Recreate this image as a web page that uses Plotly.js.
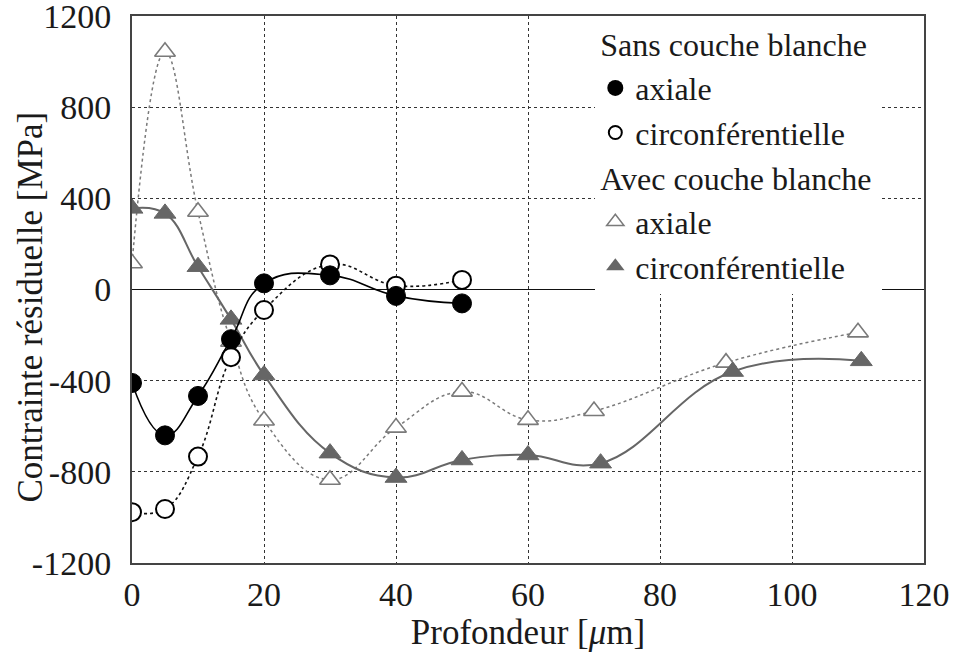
<!DOCTYPE html>
<html>
<head>
<meta charset="utf-8">
<script src="https://cdn.plot.ly/plotly-3.0.1.min.js"></script>
<style>
html,body{margin:0;padding:0;background:#fff;}
#chart{width:957px;height:653px;}
</style>
</head>
<body>
<div id="chart"></div>
<script>
// Sans couche blanche
const xSans = [0, 5, 10, 15, 20, 30, 40, 50];
const sansAxiale = [-410, -640, -467, -218, 27, 62, -28, -61];
const sansCirc = [-977, -963, -733, -297, -90, 110, 17, 42];
// Avec couche blanche
const xAvecAxiale = [0, 5, 10, 15, 20, 30, 40, 50, 60, 70, 90, 110];
const avecAxiale = [115, 1043, 341, -229, -575, -835, -606, -448, -572, -533, -321, -188];
const xAvecCirc = [0, 5, 10, 15, 20, 30, 40, 50, 60, 71, 91, 110.5];
const avecCirc = [356, 334, 100, -131, -375, -718, -825, -748, -726, -762, -360, -313];

const xTicks = [0, 20, 40, 60, 80, 100, 120];
const xTickText = ['0', '20', '40', '60', '80', '100', '120'];
const yTicks = [-1200, -800, -400, 0, 400, 800, 1200];
const yTickText = ['-1200', '-800', '-400', '0', '400', '800', '1200'];

const groupSans = 'Sans couche blanche';
const groupAvec = 'Avec couche blanche';
const labelAxiale = 'axiale';
const labelCirc = 'circonférentielle';
const xTitle = 'Profondeur [<i>μ</i>m]';
const yTitle = 'Contrainte résiduelle [MPa]';

const serifFamily = 'Liberation Serif';
const txtColor = '#1a1a1a';
const markGray = '#666666';
const markLightGray = '#7a7a7a';

const traces = [
  {x: xAvecAxiale, y: avecAxiale, mode: 'lines+markers', showlegend: false,
   line: {shape: 'spline', smoothing: 1.2, color: markLightGray, width: 1.5, dash: 'dot'},
   marker: {symbol: 'triangle-up', size: 18, color: '#fff', line: {color: markLightGray, width: 1.6}}},
  {x: xAvecCirc, y: avecCirc, mode: 'lines+markers', showlegend: false,
   line: {shape: 'spline', smoothing: 1.2, color: markGray, width: 2},
   marker: {symbol: 'triangle-up', size: 19, color: markGray, line: {color: markGray, width: 1}}},
  {x: xSans, y: sansCirc, mode: 'lines+markers', showlegend: false,
   line: {shape: 'spline', smoothing: 1.2, color: '#111', width: 1.6, dash: 'dot'},
   marker: {symbol: 'circle', size: 18, color: '#fff', line: {color: '#000', width: 2}}},
  {x: xSans, y: sansAxiale, mode: 'lines+markers', showlegend: false,
   line: {shape: 'spline', smoothing: 1.3, color: '#000', width: 1.6},
   marker: {symbol: 'circle', size: 19, color: '#000', line: {color: '#000', width: 1}}},
  // legend-only entries (markers only, as in reference)
  {x: [null], y: [null], mode: 'markers', name: labelAxiale, legendgroup: 'sans', legendrank: 1,
   legendgrouptitle: {text: groupSans}, marker: {symbol: 'circle', size: 16, color: '#000'}},
  {x: [null], y: [null], mode: 'markers', name: labelCirc, legendgroup: 'sans', legendrank: 2,
   marker: {symbol: 'circle-open', size: 13, color: '#000', line: {width: 2}}},
  {x: [null], y: [null], mode: 'markers', name: labelAxiale, legendgroup: 'avec', legendrank: 3,
   legendgrouptitle: {text: groupAvec}, marker: {symbol: 'triangle-up-open', size: 15, color: markLightGray, line: {width: 1.5}}},
  {x: [null], y: [null], mode: 'markers', name: labelCirc, legendgroup: 'avec', legendrank: 4,
   marker: {symbol: 'triangle-up', size: 16, color: markGray}}
];

const layout = {
  width: 957, height: 653,
  margin: {l: 132, r: 33, t: 16, b: 90},
  paper_bgcolor: '#fff', plot_bgcolor: '#fff',
  font: {family: serifFamily, size: 34, color: txtColor},
  showlegend: true,
  legend: {x: 0.585, xanchor: 'left', y: 1, yanchor: 'top', bgcolor: '#fff', borderwidth: 0,
           font: {family: serifFamily, size: 32, color: txtColor}, tracegroupgap: 0,
           grouptitlefont: {family: serifFamily, size: 32, color: txtColor}, traceorder: 'grouped'},
  xaxis: {range: [0, 120], tickvals: xTicks, ticktext: xTickText, showgrid: true,
          gridcolor: '#333', griddash: 'dot', gridwidth: 1, zeroline: false,
          showline: true, mirror: true, linecolor: '#444', linewidth: 2,
          ticks: '', ticklabelstandoff: 0, ticklabeloverflow: 'allow',
          tickfont: {family: serifFamily, size: 34, color: txtColor},
          title: {text: xTitle, font: {family: serifFamily, size: 35, color: txtColor}, standoff: 0}},
  yaxis: {range: [-1200, 1200], tickvals: yTicks, ticktext: yTickText, showgrid: true,
          gridcolor: '#333', griddash: 'dot', gridwidth: 1,
          zeroline: true, zerolinecolor: '#111', zerolinewidth: 1.6,
          showline: true, mirror: true, linecolor: '#444', linewidth: 2,
          ticks: '', ticklabelstandoff: 12, ticklabeloverflow: 'allow',
          tickfont: {family: serifFamily, size: 34, color: txtColor}},
  annotations: [
    {text: yTitle, xref: 'paper', yref: 'paper', x: -0.1275, y: 0.467,
     xanchor: 'center', yanchor: 'middle', textangle: -90, showarrow: false,
     font: {family: serifFamily, size: 35, color: txtColor}}
  ]
};

Plotly.newPlot('chart', traces, layout, {displayModeBar: false, staticPlot: true});
</script>
</body>
</html>
